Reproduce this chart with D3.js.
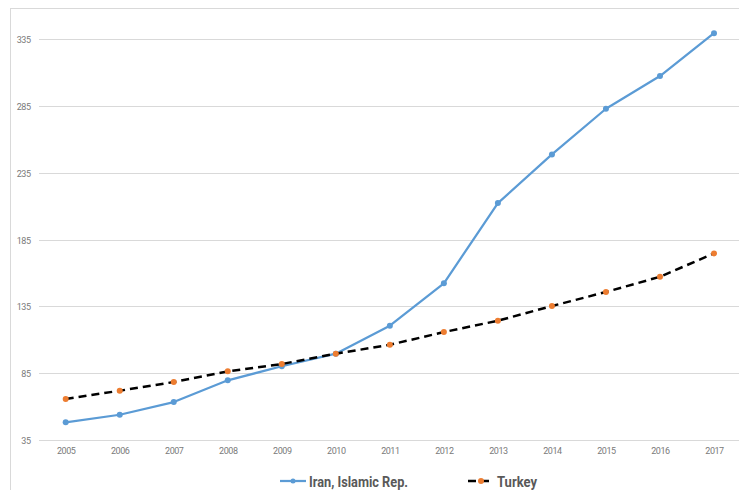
<!DOCTYPE html>
<html><head><meta charset="utf-8">
<script src="https://cdn.jsdelivr.net/npm/d3@7"></script>
<style>
html,body{margin:0;padding:0;background:#fff;}
svg{display:block;}
text{font-family:"Roboto","Liberation Sans",sans-serif;}
</style></head>
<body>
<svg id="chart" width="739" height="490"></svg>
<script>
const years = ["2005","2006","2007","2008","2009","2010","2011","2012","2013","2014","2015","2016","2017"];
const iran = [48.2,53.9,63.4,79.7,90.2,99.6,120.6,152.3,212.4,248.8,283.0,307.5,339.6];
const turkey = [65.7,71.9,78.4,86.4,91.9,99.6,106.3,115.8,124.3,135.3,145.8,157.2,174.7];
const yTicks = [35,85,135,185,235,285,335];
const seriesNames = ["Iran, Islamic Rep.","Turkey"];

const svg = d3.select("#chart");
const W = 739, H = 490;

// outer border
svg.append("rect").attr("x",10.5).attr("y",8.5).attr("width",W+5).attr("height",H+5)
  .attr("fill","none").attr("stroke","#d9d9d9").attr("stroke-width",1);

const x = d3.scalePoint().domain(years).range([65.7,714]);
const y = d3.scaleLinear().domain([35,335]).range([440,39.3]);

// gridlines
svg.append("g").selectAll("line").data(yTicks).join("line")
  .attr("x1",39).attr("x2",741)
  .attr("y1",d=>Math.round(y(d))+0.5).attr("y2",d=>Math.round(y(d))+0.5)
  .attr("stroke","#d9d9d9").attr("stroke-width",1);

// y axis labels
const yAxis = d3.axisLeft(y).tickValues(yTicks).tickSize(0).tickPadding(0);
const gy = svg.append("g").attr("transform","translate(30.5,0.5)").call(yAxis);
gy.select(".domain").remove();
gy.selectAll("text").attr("font-size",9).attr("fill","#7a7a7a")
  .attr("letter-spacing","-0.45px").style("font-family",'"Roboto",sans-serif');

// x axis labels
const xAxis = d3.axisBottom(x).tickSize(0).tickPadding(0);
const gx = svg.append("g").attr("transform","translate(0,448)").call(xAxis);
gx.select(".domain").remove();
gx.selectAll("text").attr("font-size",9).attr("fill","#7a7a7a")
  .attr("letter-spacing","-0.45px").style("font-family",'"Roboto",sans-serif');

const line = d3.line().x((d,i)=>x(years[i])).y(d=>y(d));

// Iran
svg.append("path").datum(iran).attr("d",line).attr("fill","none")
  .attr("stroke","#5b9bd5").attr("stroke-width",2.25).attr("stroke-linejoin","round");
svg.append("g").selectAll("circle").data(iran).join("circle")
  .attr("cx",(d,i)=>x(years[i])).attr("cy",d=>y(d)).attr("r",3).attr("fill","#5b9bd5");

// Turkey
svg.append("path").datum(turkey).attr("d",line).attr("fill","none")
  .attr("stroke","#000").attr("stroke-width",2.5).attr("stroke-dasharray","8,5");
svg.append("g").selectAll("circle").data(turkey).join("circle")
  .attr("cx",(d,i)=>x(years[i])).attr("cy",d=>y(d)).attr("r",3).attr("fill","#ed7d31");

// legend
const lg = svg.append("g");
lg.append("line").attr("x1",280).attr("x2",306).attr("y1",481).attr("y2",481)
  .attr("stroke","#5b9bd5").attr("stroke-width",2.25);
lg.append("circle").attr("cx",293).attr("cy",481).attr("r",2.5).attr("fill","#5b9bd5");
lg.append("text").attr("x",309).attr("y",486.5).text(seriesNames[0])
  .attr("font-size",14).attr("font-weight","bold").attr("fill","#595959")
  .attr("textLength",99).attr("lengthAdjust","spacingAndGlyphs");
lg.append("line").attr("x1",468).attr("x2",493).attr("y1",481).attr("y2",481)
  .attr("stroke","#000").attr("stroke-width",2.5).attr("stroke-dasharray","8,5");
lg.append("circle").attr("cx",481).attr("cy",481).attr("r",3).attr("fill","#ed7d31");
lg.append("text").attr("x",497).attr("y",486.5).text(seriesNames[1])
  .attr("font-size",14).attr("font-weight","bold").attr("fill","#595959")
  .attr("textLength",40).attr("lengthAdjust","spacingAndGlyphs");
</script>
</body></html>
